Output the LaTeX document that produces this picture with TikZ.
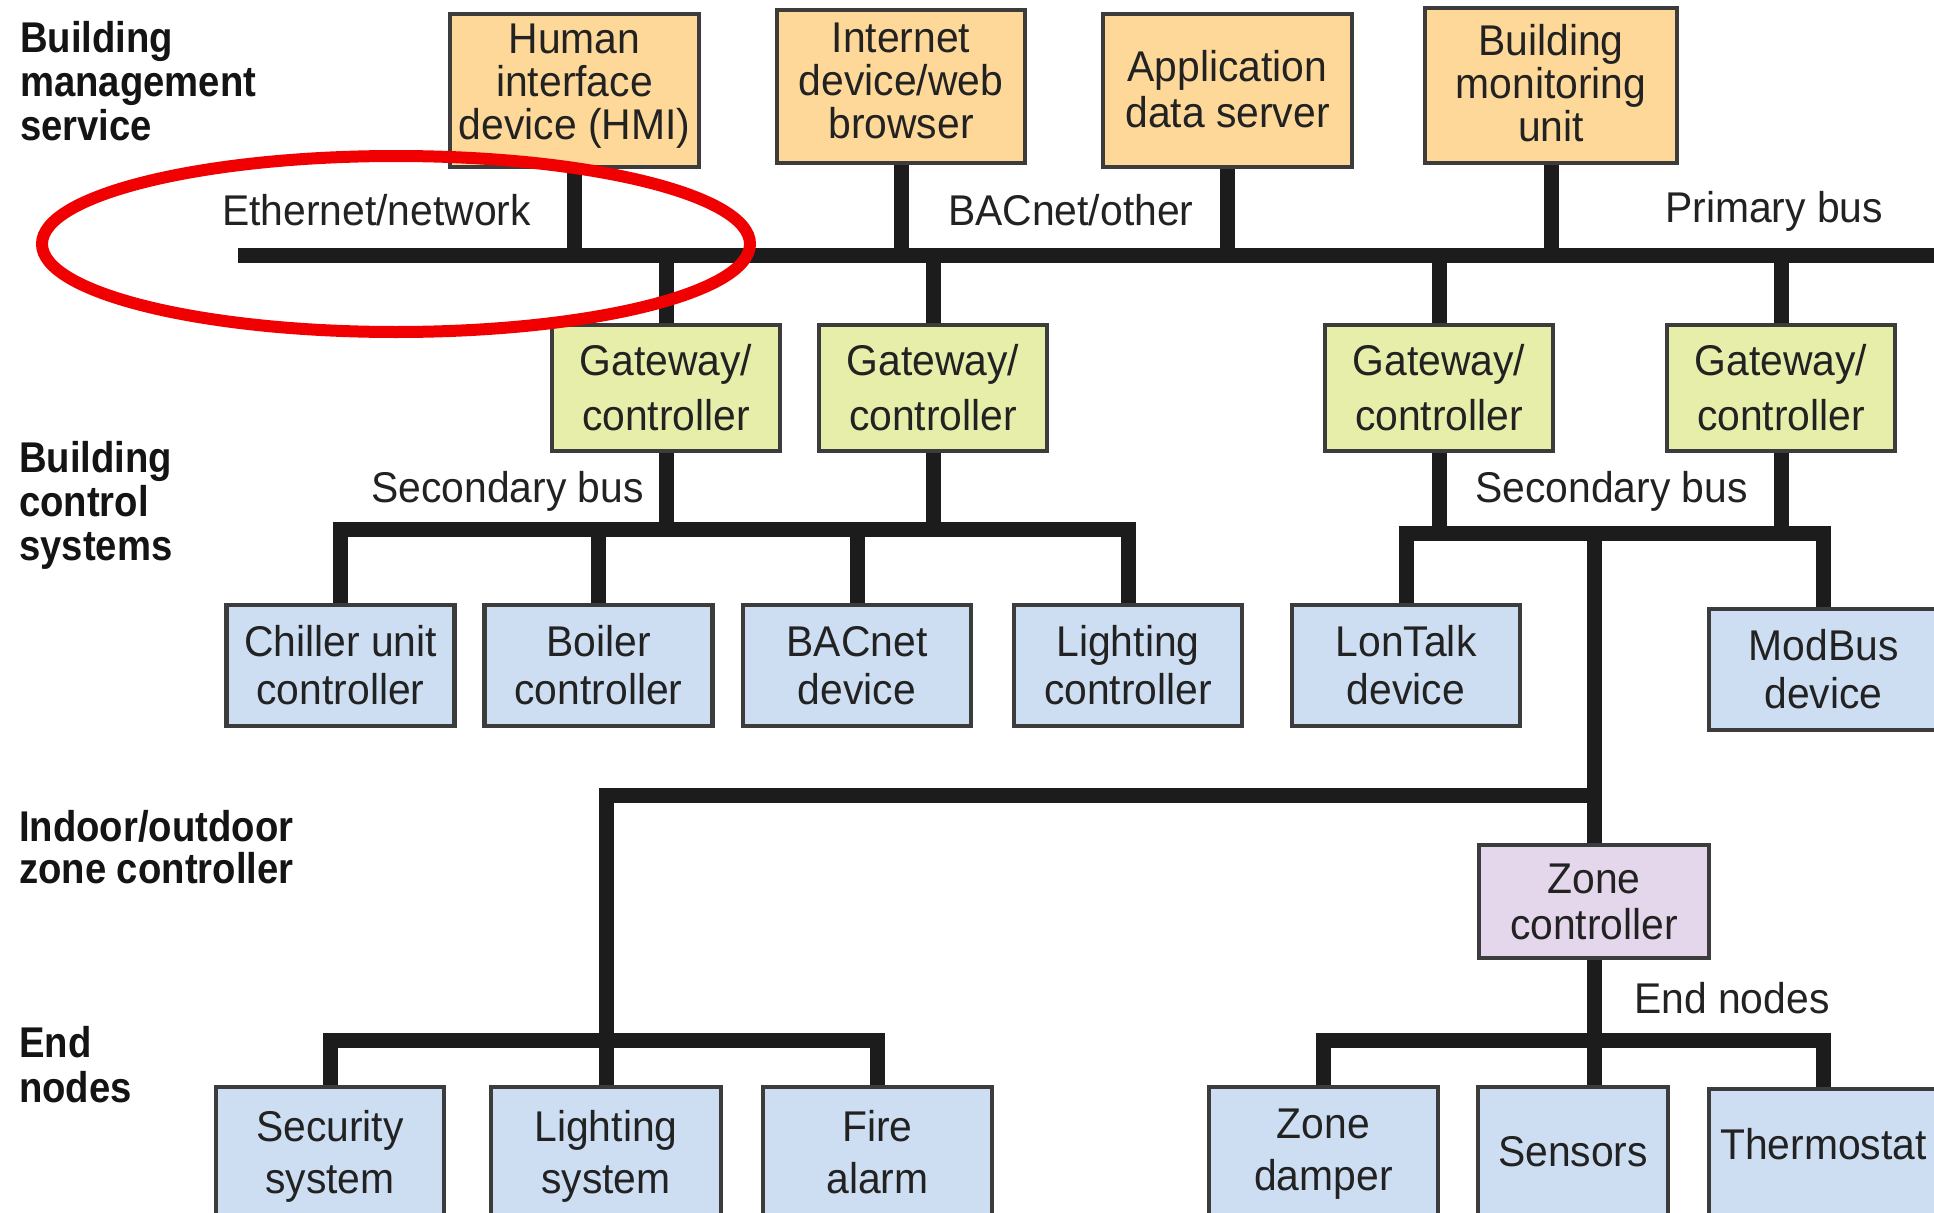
\documentclass[tikz,border=0pt]{standalone}
\usepackage{fontspec}
\setmainfont{Liberation Sans}[UprightFeatures={FakeStretch=0.95}, BoldFeatures={FakeStretch=0.89}]
\usetikzlibrary{backgrounds}
\definecolor{orangefill}{RGB}{253,216,152}
\definecolor{greenfill}{RGB}{230,238,170}
\definecolor{bluefill}{RGB}{205,222,242}
\definecolor{purplefill}{RGB}{228,215,235}
\definecolor{bordercol}{RGB}{60,60,60}
\definecolor{buscol}{RGB}{28,28,28}
\definecolor{txtcol}{RGB}{34,34,34}
\definecolor{sidecol}{RGB}{20,20,20}
\definecolor{ellipsecol}{RGB}{240,0,0}
\newcommand\dpx[1]{\rule[-#1pt]{0pt}{#1pt}}
\begin{document}
\begin{tikzpicture}[x=1pt,y=-1pt,
  box/.style={draw=bordercol, line width=4.5pt, inner sep=0pt, align=center, text=txtcol, font=\fontsize{43}{48}\selectfont},
  topbox/.style={box, fill=orangefill, font=\fontsize{43}{43}\selectfont},
  gwbox/.style={box, fill=greenfill, minimum width=228pt, minimum height=126pt, font=\fontsize{43}{55}\selectfont},
  midbox/.style={box, fill=bluefill, minimum width=228pt, minimum height=121pt, font=\fontsize{43}{48}\selectfont},
  endbox/.style={box, fill=bluefill, minimum width=229pt, minimum height=138pt, font=\fontsize{43}{52}\selectfont},
  zonebox/.style={box, fill=purplefill, minimum width=230pt, minimum height=113pt, font=\fontsize{43}{46}\selectfont},
  bus/.style={draw=buscol, line width=15pt, line join=miter, line cap=butt},
  lbl/.style={inner sep=0pt, text=txtcol, font=\fontsize{43}{44}\selectfont, anchor=base west},
  side/.style={inner sep=0pt, text=sidecol, align=left, anchor=north west, font=\bfseries\fontsize{43}{44}\selectfont}]
\useasboundingbox (0,0) rectangle (1934,1212);

% top row
\node[topbox, minimum width=249pt, minimum height=153pt] (hmi) at (574.5,90.5) {Human\\interface\\device (HMI)\dpx{17}};
\node[topbox, minimum width=248pt, minimum height=153pt] (inet) at (901,86.5) {Internet\\device/web\\browser\dpx{12}};
\node[topbox, minimum width=249pt, minimum height=153pt, font=\fontsize{43}{46}\selectfont] (app) at (1227.5,90.5) {Application\\data server\dpx{3}};
\node[topbox, minimum width=252pt, minimum height=155pt] (bmu) at (1551,85.5) {Building\\monitoring\\unit\dpx{6}};

% gateways
\node[gwbox] (gw1) at (666,388) {Gateway/\\controller};
\node[gwbox] (gw2) at (933,388) {Gateway/\\controller};
\node[gwbox] (gw3) at (1439,388) {Gateway/\\controller};
\node[gwbox] (gw4) at (1781,388) {Gateway/\\controller};

% middle row
\node[midbox] (chiller) at (340.5,665.5) {Chiller unit\\controller};
\node[midbox] (boiler) at (598.5,665.5) {Boiler\\controller};
\node[midbox] (bacnet) at (857,665.5) {BACnet\\device};
\node[midbox] (lightc) at (1128,665.5) {Lighting\\controller};
\node[midbox] (lontalk) at (1406,665.5) {LonTalk\\device};
\node[midbox, minimum width=229pt] (modbus) at (1823.5,669.5) {ModBus\\device};

% zone controller
\node[zonebox] (zone) at (1594,901.5) {Zone\\controller};

% bottom row
\node[endbox, minimum width=228pt] (security) at (330,1156) {Security\\system};
\node[endbox, minimum width=230pt] (lightsys) at (606,1156) {Lighting\\system};
\node[endbox] (fire) at (877.5,1156) {Fire\\alarm\dpx{9}};
\node[endbox] (damper) at (1323.5,1156) {Zone\\damper\dpx{12}};
\node[endbox, minimum width=190pt] (sensors) at (1573,1156) {Sensors\dpx{9}};
\node[endbox, minimum height=136pt] (thermo) at (1823.5,1157) {Thermostat\dpx{26}};

% bus labels
\node[lbl] (ethl) at (222,225) {Ethernet/network};
\node[lbl] (bacl) at (948,225) {BACnet/other};
\node[lbl] (pbl) at (1665,222) {Primary bus};
\node[lbl] (sbl1) at (371,502) {Secondary bus};
\node[lbl] (sbl2) at (1475,502) {Secondary bus};
\node[lbl] (enl) at (1634,1013) {End nodes};

% side labels
\node[side] (s1) at (20,21.6) {Building\\management\\service};
\node[side] (s2) at (19,441.6) {Building\\control\\systems};
\node[side, font=\bfseries\fontsize{43}{42}\selectfont] (s3) at (19,810.6) {Indoor/outdoor\\zone controller};
\node[side, font=\bfseries\fontsize{43}{45}\selectfont] (s4) at (19,1026.6) {End\\nodes};

% bus coordinates
\coordinate (pbL) at (238,255);
\coordinate (pbR) at (1950,255);
\coordinate (sb1) at (0,529.5);
\coordinate (sb2) at (0,533);
\coordinate (ib) at (0,795.5);
\coordinate (eb) at (0,1040.5);

\begin{scope}[on background layer]
\fill[white] (0,0) rectangle (1934,1212);
\draw[bus] (pbL) -- (pbR);
\foreach \n in {hmi,inet,app,bmu} {\draw[bus] (\n.south) -- (\n.south |- pbL);}
\foreach \n in {gw1,gw2,gw3,gw4} {\draw[bus] (\n.north) -- (\n.north |- pbL);}
\draw[bus] (chiller.north) -- (chiller.north |- sb1) -| (lightc.north);
\foreach \n in {boiler,bacnet} {\draw[bus] (\n.north) -- (\n.north |- sb1);}
\foreach \n in {gw1,gw2} {\draw[bus] (\n.south) -- (\n.south |- sb1);}
\draw[bus] (lontalk.north) -- (lontalk.north |- sb2) -| (modbus.north);
\foreach \n in {gw3,gw4} {\draw[bus] (\n.south) -- (\n.south |- sb2);}
\draw[bus] (zone.north |- sb2) -- (zone.north);
\draw[bus] (zone.north |- ib) -| (lightsys.north);
\draw[bus] (security.north) -- (security.north |- eb) -| (fire.north);
\draw[bus] (damper.north) -- (damper.north |- eb) -| (thermo.north);
\draw[bus] (zone.south) -- (zone.south |- sensors.north);
\end{scope}

% highlight ellipse
\draw[ellipsecol, line width=12pt] (396,244) ellipse [x radius=354pt, y radius=88pt];
\end{tikzpicture}
\end{document}
